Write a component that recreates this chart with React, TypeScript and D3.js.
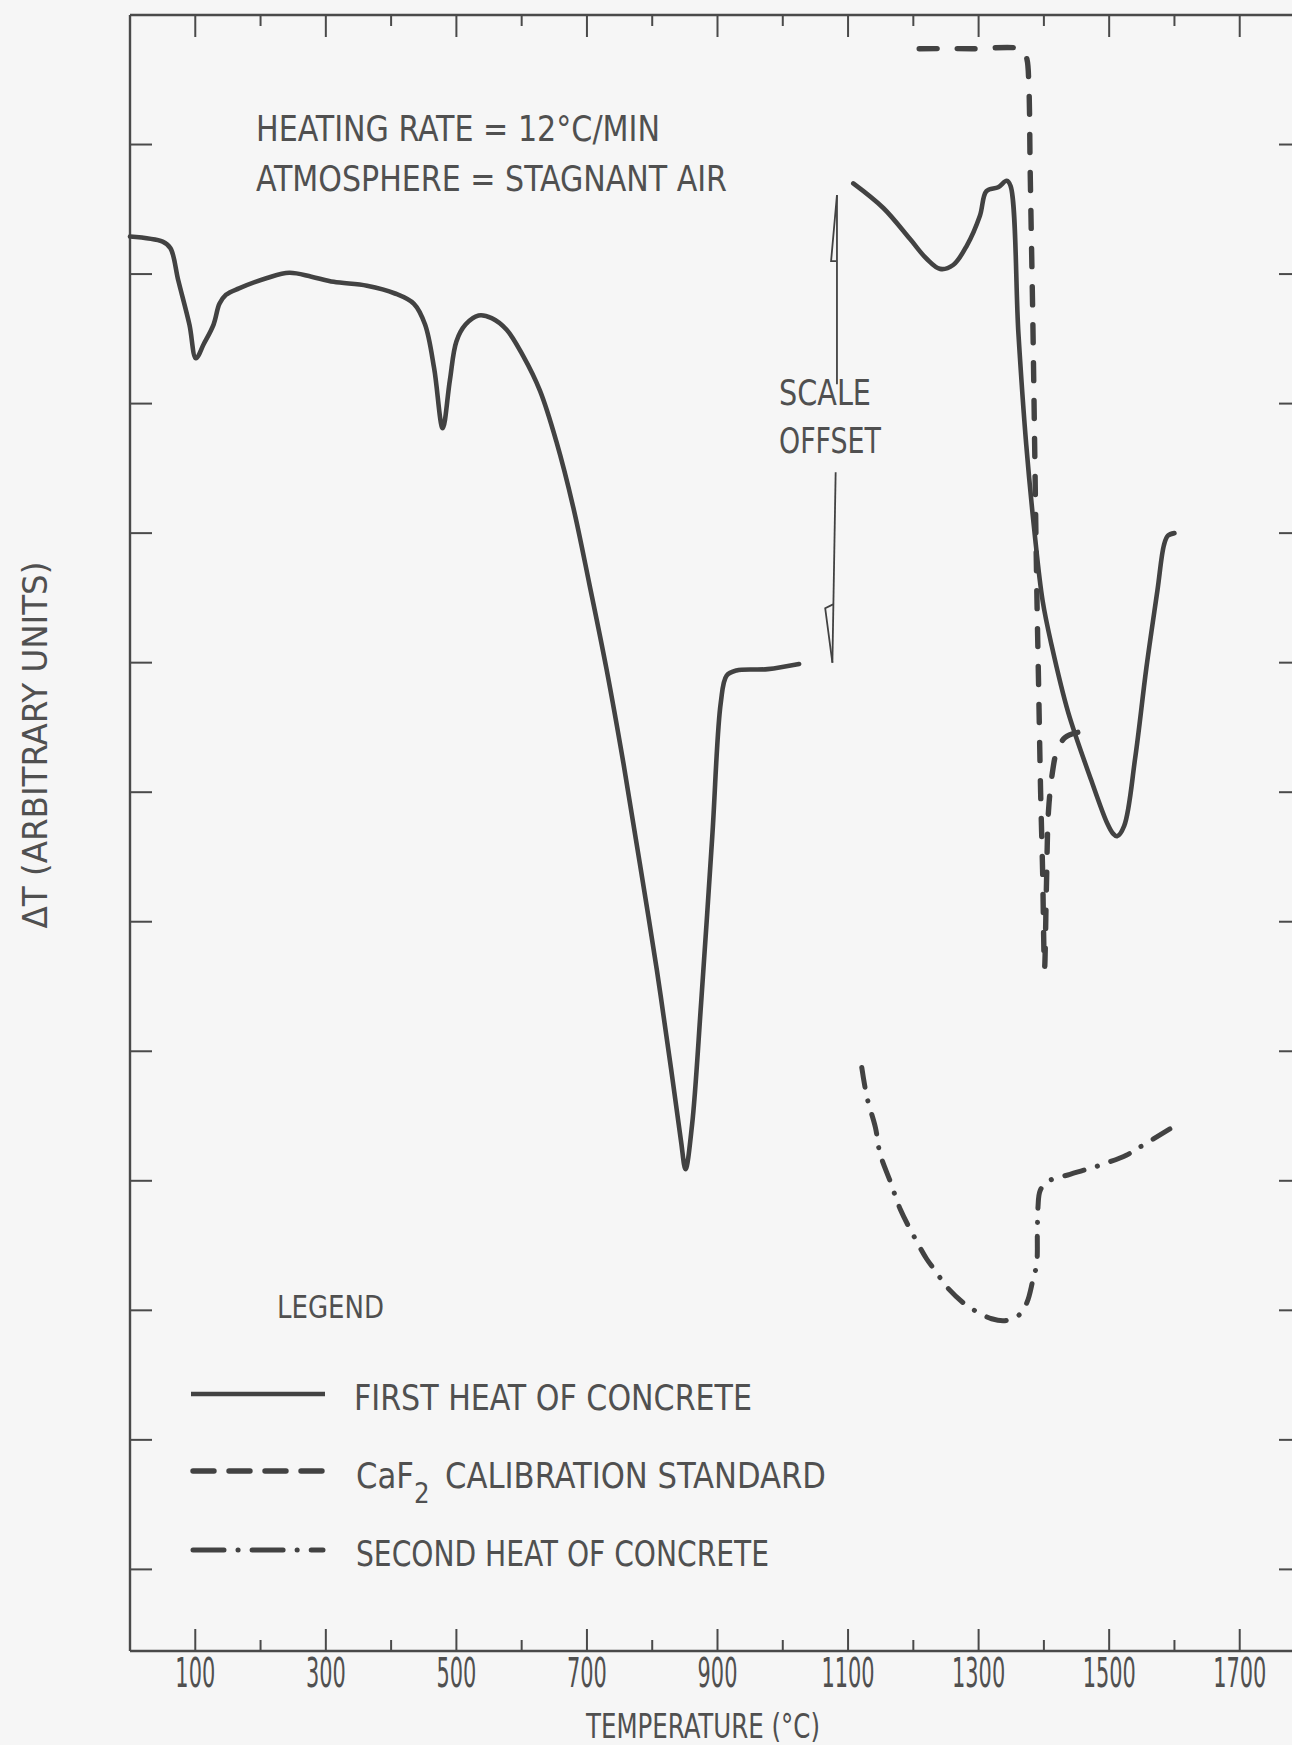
import React from "react";
import * as d3 from "d3";

const W = 1292;
const H = 1745;

// Temperature (°C) / ΔT (arbitrary units) pairs.
const firstHeatLow: [number, number][] = [
  [0, 10.29], [50, 10.25], [62, 10.2], [74, 9.95], [91, 9.61], [101, 9.35],
  [113, 9.46], [128, 9.61], [137, 9.77], [147, 9.84], [167, 9.89], [210, 9.97],
  [244, 10.01], [278, 9.98], [312, 9.94], [363, 9.91], [406, 9.85], [435, 9.77],
  [452, 9.61], [466, 9.27], [479, 8.81], [490, 9.18], [500, 9.48], [514, 9.61],
  [534, 9.68], [554, 9.66], [577, 9.57], [602, 9.37], [628, 9.1], [653, 8.71],
  [679, 8.2], [704, 7.6], [730, 6.95], [756, 6.22], [781, 5.45], [807, 4.63],
  [829, 3.86], [844, 3.31], [851, 3.09], [861, 3.43], [875, 4.38], [892, 5.66],
  [905, 6.69], [914, 6.9], [929, 6.94], [977, 6.95], [1025, 6.99],
];

// First heat after the scale offset
const firstHeatHigh: [number, number][] = [
  [1108, 10.7], [1154, 10.51], [1195, 10.27], [1220, 10.12], [1241, 10.04],
  [1261, 10.07], [1282, 10.22], [1302, 10.45], [1312, 10.64], [1330, 10.67],
  [1343, 10.72], [1349, 10.68], [1361, 9.54], [1373, 8.68], [1386, 7.99],
  [1398, 7.48], [1412, 7.13], [1437, 6.62], [1472, 6.1], [1497, 5.76],
  [1506, 5.68], [1512, 5.66], [1523, 5.74], [1540, 6.27], [1557, 6.96],
  [1574, 7.56], [1584, 7.91], [1590, 7.98], [1600, 8.0],
];

const caf2Standard: [number, number][] = [
  [1209, 11.74], [1290, 11.74], [1368, 11.73], [1374, 11.66], [1377, 11.45],
  [1379, 10.8], [1383, 9.66], [1386, 8.63], [1389, 7.6], [1392, 6.8],
  [1395, 6.0], [1398, 5.4], [1401, 4.64], [1404, 5.3], [1407, 5.85],
  [1413, 6.15], [1420, 6.32], [1432, 6.42], [1450, 6.46], [1481, 6.47],
];

const secondHeat: [number, number][] = [
  [1121, 3.875], [1129, 3.644], [1142, 3.41], [1149, 3.21], [1165, 2.99],
  [1180, 2.78], [1200, 2.58], [1220, 2.4], [1236, 2.29], [1248, 2.2],
  [1276, 2.06], [1297, 1.99], [1320, 1.935], [1340, 1.92], [1361, 1.96],
  [1374, 2.06], [1383, 2.23], [1389, 2.36], [1390, 2.6], [1391, 2.8],
  [1394, 2.92], [1404, 2.99], [1440, 3.05], [1460, 3.08], [1486, 3.12],
  [1527, 3.2], [1547, 3.26], [1593, 3.4],
];

const xTickValues = d3.range(100, 1800, 100);
const xLabelValues = [100, 300, 500, 700, 900, 1100, 1300, 1500, 1700];
const yTickValues = d3.range(0, 12, 1);

const INK = "#424242";
const TEXT = "#505050";
const FONT = "'Liberation Sans Narrow', 'DejaVu Sans Condensed', 'Roboto Condensed', sans-serif";

export default function App() {
  const x = d3.scaleLinear().domain([0, 1800]).range([130, 1305]);
  const y = d3.scaleLinear().domain([-0.63, 12]).range([1651, 15]);

  const line = d3
    .line<[number, number]>()
    .x((d) => x(d[0]))
    .y((d) => y(d[1]))
    .curve(d3.curveCatmullRom.alpha(0.5));

  const [x0, x1] = x.range();
  const [yb, yt] = y.range();

  const legendY = [1394, 1471, 1550];

  return (
    <svg
      width={W}
      height={H}
      style={{ position: "absolute", left: 0, top: 0, background: "#f6f6f6" }}
      fontFamily={FONT}
    >
      <rect x={0} y={0} width={W} height={H} fill="#f6f6f6" />

      {/* frame */}
      <g stroke="#4a4a4a" strokeWidth={2.4} fill="none">
        <line x1={x0} y1={yb} x2={x1} y2={yb} />
        <line x1={x0} y1={yt} x2={x1} y2={yt} />
        <line x1={x0} y1={yb} x2={x0} y2={yt} />
        <line x1={x1} y1={yb} x2={x1} y2={yt} />
      </g>

      {/* temperature ticks, bottom and top; ΔT ticks, left and right */}
      <g stroke="#4a4a4a" strokeWidth={2}>
        {xTickValues.map((t) => {
          const len = t % 200 === 100 ? 22 : 11;
          return (
            <g key={t}>
              <line x1={x(t)} x2={x(t)} y1={yb} y2={yb - len} />
              <line x1={x(t)} x2={x(t)} y1={yt} y2={yt + len} />
            </g>
          );
        })}
        {yTickValues.map((v) => (
          <g key={v}>
            <line x1={x0} x2={x0 + 22} y1={y(v)} y2={y(v)} />
            <line x1={x1} x2={x1 - 26} y1={y(v)} y2={y(v)} />
          </g>
        ))}
      </g>

      {/* tick labels: tall, narrow lettering */}
      <g fill={TEXT} fontSize={40} textAnchor="middle">
        {xLabelValues.map((t) => (
          <text key={t} transform={`translate(${x(t)}, 1687) scale(0.58, 1)`}>
            {t}
          </text>
        ))}
      </g>

      {/* axis titles */}
      <text x={586} y={1738} fill={TEXT} fontSize={34} textLength={234} lengthAdjust="spacingAndGlyphs">
        TEMPERATURE (°C)
      </text>
      <text
        transform={`translate(47, 745) rotate(-90)`}
        fill={TEXT}
        fontSize={34}
        textAnchor="middle"
        textLength={367}
        lengthAdjust="spacingAndGlyphs"
      >
        ΔT (ARBITRARY UNITS)
      </text>

      {/* conditions */}
      <text x={256} y={141} fill={TEXT} fontSize={35} textLength={404} lengthAdjust="spacingAndGlyphs">
        HEATING RATE = 12°C/MIN
      </text>
      <text x={256} y={191} fill={TEXT} fontSize={35} textLength={471} lengthAdjust="spacingAndGlyphs">
        ATMOSPHERE = STAGNANT AIR
      </text>

      {/* scale offset marker */}
      <text x={779} y={405} fill={TEXT} fontSize={35} textLength={92} lengthAdjust="spacingAndGlyphs">
        SCALE
      </text>
      <text x={779} y={453} fill={TEXT} fontSize={35} textLength={102} lengthAdjust="spacingAndGlyphs">
        OFFSET
      </text>
      <g stroke={INK} strokeWidth={1.8} fill="none">
        <line x1={x(1083)} y1={y(10.61)} x2={x(1083)} y2={y(9.15)} />
        <path
          d={`M${x(1083)},${y(10.61)} L${x(1074)},${y(10.1)} L${x(1082)},${y(10.1)}`}
        />
        <line x1={x(1081)} y1={y(8.47)} x2={x(1076)} y2={y(7.0)} />
        <path
          d={`M${x(1076)},${y(7.0)} L${x(1065)},${y(7.42)} L${x(1077)},${y(7.45)}`}
        />
      </g>

      {/* traces */}
      <g fill="none" stroke={INK} strokeLinejoin="round">
        <path d={line(firstHeatLow) ?? ""} strokeWidth={4.6} strokeLinecap="round" />
        <path d={line(firstHeatHigh) ?? ""} strokeWidth={4.6} strokeLinecap="round" />
        <path d={line(caf2Standard) ?? ""} strokeWidth={5.4} strokeDasharray="18 20" strokeLinecap="round" />
        <path d={line(secondHeat) ?? ""} strokeWidth={5} strokeDasharray="20 14 0.1 14" strokeLinecap="round" />
      </g>

      {/* legend */}
      <text x={277} y={1318} fill={TEXT} fontSize={32} textLength={107} lengthAdjust="spacingAndGlyphs">
        LEGEND
      </text>
      <g stroke={INK} fill="none">
        <line x1={191} x2={325} y1={legendY[0]} y2={legendY[0]} strokeWidth={4.6} />
        <line x1={193} x2={323} y1={legendY[1]} y2={legendY[1]} strokeWidth={5.4} strokeDasharray="21 15" strokeLinecap="round" />
        <line x1={193} x2={323} y1={legendY[2]} y2={legendY[2]} strokeWidth={5} strokeDasharray="31 14 0.1 14" strokeLinecap="round" />
      </g>
      <g fill={TEXT} fontSize={35}>
        <text x={354} y={1410} textLength={398} lengthAdjust="spacingAndGlyphs">
          FIRST HEAT OF CONCRETE
        </text>
        <text x={356} y={1488} textLength={470} lengthAdjust="spacingAndGlyphs">
          CaF
          <tspan dy={15} fontSize={28}>
            2
          </tspan>
          <tspan dy={-15} dx={16}>
            CALIBRATION STANDARD
          </tspan>
        </text>
        <text x={356} y={1566} textLength={413} lengthAdjust="spacingAndGlyphs">
          SECOND HEAT OF CONCRETE
        </text>
      </g>
    </svg>
  );
}
